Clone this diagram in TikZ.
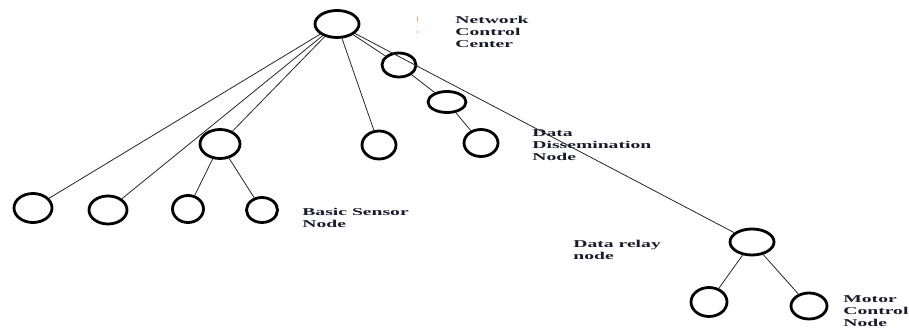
\documentclass[tikz,border=0pt]{standalone}
\usepackage{fontspec}
\setmainfont{Liberation Serif}
\usetikzlibrary{shapes.geometric}
\definecolor{lbltext}{RGB}{25,25,45}
\definecolor{tick}{RGB}{240,170,110}

\begin{document}
\begin{tikzpicture}[
    x=1pt, y=-1pt,
    nd/.style={draw, ellipse, line width=2.8pt, inner sep=0pt},
    link/.style={draw=black!85, line width=0.8pt},
    lbl/.style={anchor=base west, align=left, inner sep=0pt, xscale=1.87,
                text=lbltext, font=\fontsize{10.5}{12}\selectfont\bfseries}
  ]
  \useasboundingbox (0,0) rectangle (909,331);

  % ================= NETWORK CONTROL CENTER =================
  \node[nd, minimum width=44pt, minimum height=27pt] (ncc) at (337,24) {};
  % (base of a label = baseline of its last line)
  \node[lbl] (ncclbl) at (455,47.5) {Network\\Control\\Center};
  \draw[tick, line width=1pt] (417,16) -- (417,22);
  \draw[tick, line width=1pt] (417,31) -- (417,33);

  % ================= DATA DISSEMINATION CHAIN =================
  \node[nd, minimum width=34pt, minimum height=24pt] (ddn1) at (399,65) {};
  \node[nd, minimum width=38pt, minimum height=21pt] (ddn2) at (447,102) {};
  \node[nd, minimum width=34pt, minimum height=27pt] (ddn3) at (481,143) {};
  \node[lbl] (ddnlbl) at (532,160.5) {Data\\Dissemination\\Node};

  % ================= BASIC SENSOR NODES =================
  \node[nd, minimum width=40pt, minimum height=29pt] (bsp) at (220,144) {};
  \node[nd, minimum width=34pt, minimum height=28pt] (mid) at (379,145) {};
  \node[nd, minimum width=38pt, minimum height=29pt] (bs1) at (33,208) {};
  \node[nd, minimum width=38pt, minimum height=28pt] (bs2) at (108,210) {};
  \node[nd, minimum width=31pt, minimum height=27pt] (bs3) at (188,209) {};
  \node[nd, minimum width=31pt, minimum height=25pt] (bs4) at (262,210) {};
  \node[lbl] (bslbl) at (302,227.5) {Basic Sensor\\Node};

  % ================= RELAY AND MOTOR CONTROL =================
  \node[nd, minimum width=44pt, minimum height=26pt] (relay) at (752,242) {};
  \node[lbl] (relaylbl) at (573,259.5) {Data relay\\node};
  \node[nd, minimum width=36pt, minimum height=29pt] (mc1) at (709,302) {};
  \node[nd, minimum width=36pt, minimum height=26pt] (mc2) at (809,306) {};
  \node[lbl] (mclbl) at (843,326.5) {Motor\\Control\\Node};

  % links
  \foreach \t in {bs1,bs2,bsp,mid,ddn1,relay}
    \draw[link] (ncc) -- (\t);
  \draw[link] (ddn1) -- (ddn2);
  \draw[link] (ddn2) -- (ddn3);
  \draw[link] (bsp) -- (bs3);
  \draw[link] (bsp) -- (bs4);
  \draw[link] (relay) -- (mc1);
  \draw[link] (relay) -- (mc2);

\end{tikzpicture}
\end{document}
